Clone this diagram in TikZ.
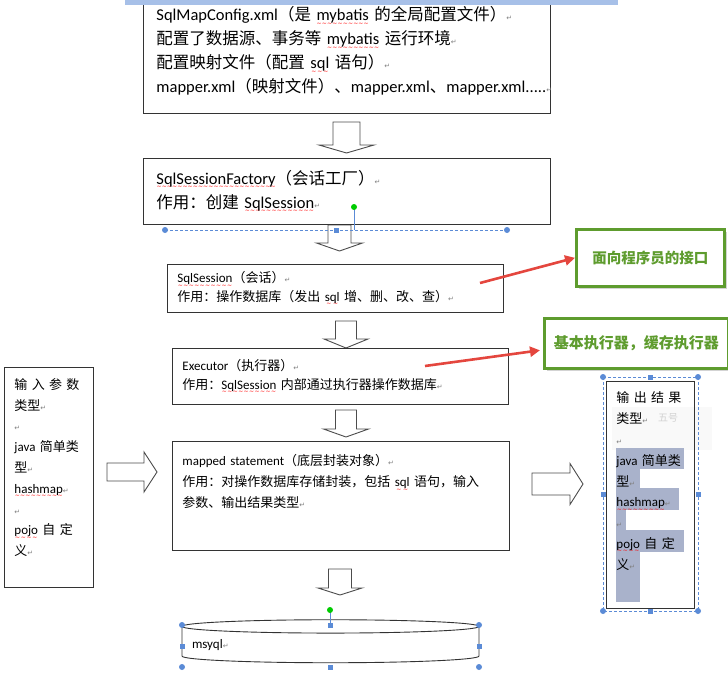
\documentclass[tikz,border=0pt]{standalone}
\usepackage{fontspec}
\usepackage{xcolor}
\usepackage{tikz}
\usetikzlibrary{arrows.meta,positioning,shapes.geometric,shadows,calc}
\setmainfont{Noto Sans CJK SC}
\newfontfamily\lat{Carlito}
\newfontfamily\symf{DejaVu Sans}
\definecolor{selblue}{HTML}{5B8BD6}
\definecolor{barblue}{HTML}{A7C0E8}
\definecolor{notegreen}{HTML}{5E9C2E}
\definecolor{arrred}{HTML}{E4463E}
\definecolor{hilite}{HTML}{A9B2CB}
\newcommand\wv[1]{\mbox{\lat\setbox0\hbox{#1}\rlap{\color{red}\symf\fontsize{6}{6}\selectfont
  \hbox to\wd0{\xleaders\hbox{\raisebox{-4.5pt}{∼}}\hfill}}\box0}}
\newcommand\en[1]{{\lat #1}}
\newcommand\ret{{\symf\fontsize{7}{7}\selectfont\textcolor{gray}{↵}}}
\newcommand\bigtxt{\fontsize{16.5}{24}\selectfont}
\newcommand\smtxt{\fontsize{13}{18.5}\selectfont}
\newcommand\sidetxt{\fontsize{13}{20.8}\selectfont}
\tikzset{
  box/.style={rectangle,draw=black!80,line width=0.9pt,anchor=north west,
    align=left,inner ysep=0pt},
  note/.style={rectangle,draw=notegreen,line width=2.6pt,fill=white,
    text=notegreen,anchor=north west,
    drop shadow={shadow xshift=2.5pt,shadow yshift=-3pt,opacity=0.35}},
  redarr/.style={arrred,line width=2.6pt,-{Triangle[length=10pt,width=10pt]}},
  blockarr/.style={draw=black!70,line width=0.9pt,fill=white},
  sel/.style={selblue,densely dashed,line width=0.6pt},
  pics/downarr/.style n args={4}{code={
    \draw[blockarr] ({-#1/2},0) -- ({#1/2},0) -- ({#1/2},{#3-#4}) -- ({#2/2},{#3-#4})
      -- (0,#3) -- ({-#2/2},{#3-#4}) -- ({-#1/2},{#3-#4}) -- cycle;}},
  pics/rightarr/.style n args={4}{code={
    \draw[blockarr] (0,{-#1/2}) -- (0,{#1/2}) -- ({#3-#4},{#1/2}) -- ({#3-#4},{#2/2})
      -- (#3,0) -- ({#3-#4},{-#2/2}) -- ({#3-#4},{-#1/2}) -- cycle;}},
}

\begin{document}
\begin{tikzpicture}[x=1pt,y=-1pt]
\useasboundingbox (0,0) rectangle (728,693);

% main chain
\node[box,minimum width=407pt,minimum height=125pt,text width=381pt,inner xsep=13pt,font=\bigtxt] (cfg) at (143,-12) {%
\en{SqlMapConfig.xml}（是 \wv{mybatis} 的全局配置文件）\ret\\
配置了数据源、事务等 \wv{mybatis} 运行环境\ret\\
配置映射文件（配置 \wv{sql} 语句）\ret\\
\en{mapper.xml}（映射文件）、\en{mapper.xml}、\en{mapper.xml.....}\ret};
\fill[barblue] (125,0) rectangle (618,5);

\pic (a1) at (346.5,122) {downarr={27}{55}{31}{8}};

\pic (a2) at (339.5,225) {downarr={23}{46}{26}{8}};
\node[box,minimum width=407pt,minimum height=66pt,text width=381pt,inner xsep=13pt,font=\bigtxt,fill=white] (fac) at (143,158) {%
\wv{SqlSessionFactory}（会话工厂）\ret\\
作用：创建 \wv{SqlSession}\ret};

\node[box,minimum width=336pt,minimum height=48pt,text width=316pt,inner xsep=10pt,font=\smtxt] (ses) at (167,264) {%
\wv{SqlSession}（会话）\ret\\
作用：操作数据库（发出 \wv{sql} 增、删、改、查）\ret};

\pic (a3) at (346,321) {downarr={21}{44}{27}{9}};
\node[box,minimum width=336pt,minimum height=56pt,text width=316pt,inner xsep=10pt,font=\smtxt] (exe) at (172,348) {%
\en{Executor}（执行器）\ret\\
作用：\wv{SqlSession} 内部通过执行器操作数据库\ret};

\pic (a4) at (346,410) {downarr={21}{45}{27}{8}};
\node[box,minimum width=337pt,minimum height=109pt,text width=317pt,inner xsep=10pt,font=\sidetxt] (map) at (172,441) {%
\en{mapped statement}（底层封装对象）\ret\\
\makebox[317pt][s]{作用：对操作数据库存储封装，包括 \wv{sql} 语句，输入}\\
参数、输出结果类型\ret\\[9pt]\mbox{}};

\pic (a5) at (340,569) {downarr={23}{44}{26}{7}};
\node[cylinder,shape border rotate=90,aspect=0.047,draw=black!80,line width=0.9pt,
  minimum width=297pt,minimum height=43pt,text width=277pt,align=left,
  font=\smtxt] (db) at (330.5,645.5) {\en{msyql}\ret};

% input / output
\node[box,minimum width=89pt,minimum height=220pt,text width=69pt,inner xsep=10pt,font=\sidetxt] (inp) at (4,367) {%
\makebox[69pt][s]{输 入 参 数}\\
类型\ret\\
\ret\\
\makebox[69pt][s]{\en{java} 简单类}\\
型\ret\\
\wv{hashmap}\ret\\
\ret\\
\makebox[69pt][s]{\wv{pojo} 自 定}\\
义\ret\\[0pt]\mbox{}};
\pic (r1) at (107,472) {rightarr={18}{40}{50}{13}};

\pic (r2) at (532,484) {rightarr={22}{41}{51}{13}};
\fill[gray!5] (612,407) rectangle (712,450);
\node[text=gray!35,font=\fontsize{10}{10}\selectfont] (tb) at (668,418) {五号};
\fill[hilite] (616,448) rectangle (684,469);
\fill[hilite] (616,469) rectangle (640,488);
\fill[hilite] (616,488) rectangle (679,510);
\fill[hilite] (616,510) rectangle (626,530);
\fill[hilite] (616,530) rectangle (684,552);
\fill[hilite] (616,552) rectangle (640,602);
\node[box,minimum width=88pt,minimum height=227pt,text width=68pt,inner xsep=10pt,font=\sidetxt] (out) at (606,381) {%
\makebox[68pt][s]{输 出 结 果}\\
类型\ret\\
\ret\\
\makebox[68pt][s]{\en{java} 简单类}\\
型\ret\\
\wv{hashmap}\ret\\
\ret\\
\makebox[68pt][s]{\wv{pojo} 自 定}\\
义\ret\\[8pt]\mbox{}};

% notes
\node[note,minimum width=148pt,minimum height=57pt,font=\fontsize{14.5}{16}\selectfont\bfseries] (gb1) at (575,228) {面向程序员的接口};
\node[note,minimum width=184pt,minimum height=50pt,font=\fontsize{15}{17}\selectfont\bfseries] (gb2) at (543,317) {基本执行器，缓存执行器};
\coordinate (r1s) at (480,283);
\coordinate (r2s) at (425,366);
\draw[redarr] (r1s) -- (gb1.west);
\draw[redarr] (r2s) -- ($(gb2.west)+(-3,7)$);

% selection handles
\draw[sel] (165,230) -- (507,230);
\draw[selblue,line width=0.8pt] (354,207) -- (354,230);
\draw[sel] (603,377) rectangle (698,611);
\draw[selblue,line width=0.8pt] (330,610) -- (330,625);
\foreach \x/\y in {165/230,507/230,603/377,698/377,603/611,698/611,
  182/625,479/625,182/667,479/667}
  \fill[selblue] (\x,\y) circle[radius=3pt];
\foreach \x/\y in {336/230,650/377,650/611,603/494,698/494,
  330/625,330/667,182/646,479/646}
  \fill[selblue] (\x-2.5,\y-2.5) rectangle +(5,5);
\foreach \x/\y in {354/207,330/610}
  \fill[green!80!black] (\x,\y) circle[radius=3pt];
\end{tikzpicture}
\end{document}
